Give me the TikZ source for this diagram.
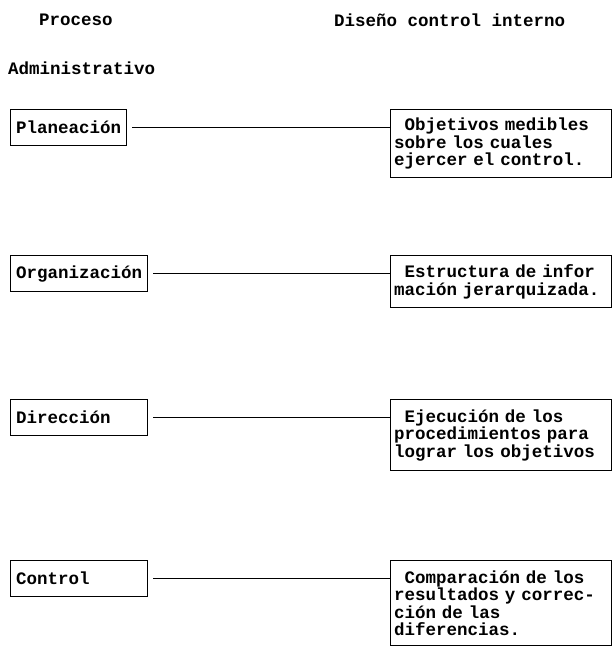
\documentclass[tikz,border=0pt]{standalone}
\usepackage{fontspec}
\setmonofont{Liberation Mono}[WordSpace={1,0,0}]
\usetikzlibrary{positioning}

\begin{document}
\begin{tikzpicture}[x=1pt, y=-1pt,
    every node/.style={font=\ttfamily\bfseries\fontsize{17.5pt}{17.5pt}\selectfont},
    heading/.style={anchor=west, inner sep=0pt},
    procbox/.style={rectangle, draw, line width=1.3pt, anchor=north west, inner xsep=5.5pt, minimum height=36pt},
    wide/.style={text width=126pt, align=left},
    ctrlbox/.style={rectangle, draw, line width=1.3pt, anchor=north west, inner xsep=3.5pt, inner ysep=6pt, text width=214pt, align=left},
    link/.style={line width=1.4pt, shorten <=5pt}]
    \useasboundingbox (0,0) rectangle (613,648);

    % column titles
    \node (proceso) [heading] at (39,20) {Proceso};
    \node (admin) [heading] at (8,68) {Administrativo};
    \node (diseno) [heading] at (334,20) {Diseño control interno};

    % administrative process
    \node (plan) [procbox] at (10,109) {Planeación};
    \node (org) [procbox] at (10,255) {Organización};
    \node (dir) [procbox, wide] at (10,399) {Dirección};
    \node (ctrl) [procbox, wide] at (10,560) {Control};

    % internal control design
    \node (obj) [ctrlbox, minimum height=68pt] at (390,109) {\hphantom{x}Objetivos medibles\\sobre los cuales\\ejercer el control.};
    \node (estr) [ctrlbox, minimum height=52pt] at (390,255) {\hphantom{x}Estructura de infor\\mación jerarquizada.};
    \node (ejec) [ctrlbox, minimum height=71pt] at (390,399) {\hphantom{x}Ejecución de los\\procedimientos para\\lograr los objetivos};
    \node (comp) [ctrlbox, minimum height=85pt] at (390,560) {\hphantom{x}Comparación de los\\resultados y correc-\\ción de las\\diferencias.};

    \draw [link] (plan.east) -- (plan.east -| obj.west);
    \draw [link] (org.east) -- (org.east -| estr.west);
    \draw [link] (dir.east) -- (dir.east -| ejec.west);
    \draw [link] (ctrl.east) -- (ctrl.east -| comp.west);
\end{tikzpicture}
\end{document}
